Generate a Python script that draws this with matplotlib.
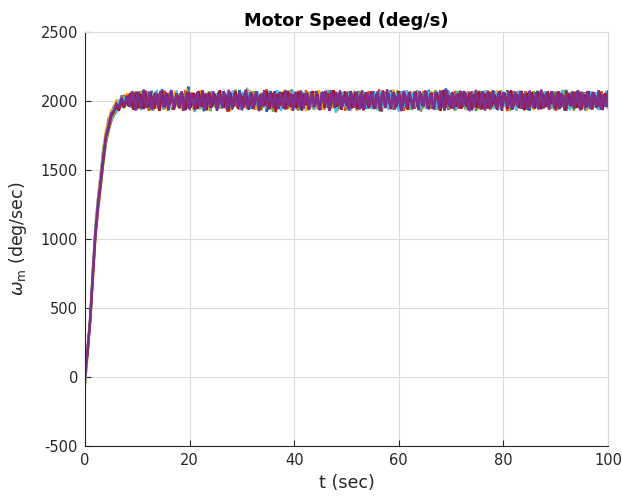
import numpy as np
import matplotlib
matplotlib.use("Agg")
import matplotlib.pyplot as plt

# Rise portion (t = 0 .. 8 s, step 0.5 s) for each run
rise_blue   = [-40, 180, 430, 760, 1080, 1300, 1470, 1650, 1760, 1870, 1900, 1960, 1990, 1950, 2040, 1975, 2030]
rise_orange = [10, 230, 400, 700, 1020, 1210, 1380, 1560, 1700, 1790, 1850, 1900, 1930, 1990, 1960, 2045, 1970]
rise_yellow = [-60, 160, 450, 790, 1090, 1300, 1460, 1640, 1790, 1850, 1930, 1950, 2010, 1960, 2030, 1985, 2050]
rise_green  = [20, 210, 410, 720, 1040, 1230, 1390, 1550, 1690, 1780, 1870, 1890, 1970, 1940, 2020, 1960, 2000]
rise_cyan   = [-30, 190, 440, 770, 1070, 1280, 1410, 1620, 1720, 1840, 1860, 1940, 1920, 2010, 1950, 2030, 1980]
rise_red    = [40, 170, 420, 740, 1030, 1240, 1400, 1570, 1740, 1800, 1890, 1920, 1960, 1930, 2000, 1950, 2040]
rise_purple = [-20, 200, 420, 750, 1060, 1260, 1430, 1600, 1750, 1820, 1910, 1930, 1980, 1955, 2025, 1970, 2010]

# Steady portion (t = 8.25 .. 100 s, step 0.25 s)
steady_blue = [
2012, 2040, 1968, 1985, 2057, 2031, 1943, 1972, 2020, 2066, 1996, 1951, 2003, 2038, 2049, 1972, 1930, 2011, 2074, 1988, 1959, 2027, 2045,
1994, 1962, 2033, 2085, 2015, 1978, 1947, 2052, 1990, 2024, 1966, 1939, 2002, 2061, 2043, 1975, 1957, 2030, 2068, 1984, 1949, 2009, 2036,
2104, 1970, 1958, 2021, 2055, 1993, 1941, 1981, 2017, 2047, 2039, 1964, 1926, 2013, 2058, 2029, 1977, 1953, 2070, 2034, 1989, 1960, 2050,
2006, 1945, 1973, 2042, 2063, 1998, 1955, 2019, 2071, 2026, 1936, 1982, 2046, 2037, 1967, 1950, 2079, 2022, 1991, 1963, 2054, 2010, 1944,
2040, 2060, 1979, 1952, 2028, 2067, 1987, 1938, 2016, 2048, 2001, 1969, 2035, 2056, 1921, 1983, 2025, 2073, 1961, 1946, 2008, 2044, 2031,
1976, 1956, 2062, 2018, 1997, 1940, 2053, 2039, 1971, 1954, 2082, 2023, 1986, 1965, 2051, 2014, 1935, 1980, 2045, 2059, 1992, 1948, 2032,
2066, 1958, 1974, 2027, 2043, 1995, 1942, 2069, 2020, 1962, 1937, 2057, 2048, 2011, 1978, 1951, 2035, 2076, 1984, 1966, 2024, 2053, 2005,
1943, 1970, 2040, 2064, 1990, 1957, 2030, 2058, 1979, 1933, 2018, 2046, 2038, 1963, 1949, 2072, 2021, 1993, 1960, 2050, 2037, 1944, 1975,
2061, 2009, 1953, 2025, 2069, 1982, 1947, 2033, 2055, 1988, 1924, 2015, 2064, 2041, 1972, 1958, 2047, 2078, 1996, 1939, 2027, 2052, 1985,
1961, 2019, 2068, 2003, 1950, 1974, 2044, 2036, 1967, 1941, 2059, 2030, 1994, 1955, 2075, 2012, 1977, 1934, 2049, 2062, 1986, 1969, 2023,
2080, 1998, 1946, 2038, 2057, 1971, 1952, 2016, 2065, 2029, 1959, 1983, 2042, 2090, 1964, 1937, 2021, 2054, 1990, 1948, 2034, 2071, 2007,
1956, 1979, 2045, 2060, 1987, 1940, 2026, 2067, 2013, 1962, 1973, 2051, 2039, 1929, 1995, 2058, 2032, 1968, 1945, 2073, 2017, 1981, 1954,
2048, 2064, 1976, 1958, 2035, 2070, 1992, 1943, 2011, 2056, 2024, 1965, 1980, 2043, 2077, 1951, 1938, 2028, 2061, 1997, 1960, 2019, 2052,
1972, 1949, 2066, 2036, 1985, 1957, 2047, 2025, 1931, 1990, 2059, 2041, 1966, 1953, 2074, 2008, 1978, 1942, 2031, 2063, 1999, 1961, 2045,
2055, 1970, 1947, 2022, 2068, 1989, 1936, 2014, 2050, 2033, 1963, 1975, 2040, 2081, 1956, 1950, 2027, 2057, 1984, 1944, 2037, 2069, 2002,
1959, 1981, 2049, 2062, 1993, 1932, 2020, 2072, 2010, 1967, 1952, 2058, 2038, 1974, 1946, 2065, 2029, 1987, 1957, 2044, 2053, 1964, 2026]
steady_orange = [
1985, 2034, 2046, 1952, 1977, 2061, 2019, 1940, 1999, 2070, 2046, 1963, 1956, 2028, 2052, 1981, 1929, 2037, 2064, 2015, 1970, 1948, 2041,
2007, 2058, 1966, 1944, 2024, 2075, 1987, 1958, 2031, 2049, 1973, 1937, 2012, 2067, 1992, 1961, 2022, 2055, 1979, 1946, 2038, 2080, 2017,
1983, 1953, 2044, 2063, 1995, 1941, 2026, 2050, 1969, 1957, 2009, 2071, 2033, 1975, 1934, 2020, 2047, 1986, 1964, 2059, 2039, 1950, 1990,
2066, 2013, 1943, 1978, 2053, 2029, 1960, 1923, 2036, 2062, 1997, 1955, 2018, 2074, 2042, 1972, 1939, 2048, 2025, 1967, 1984, 2057, 2004,
1947, 1976, 2069, 2032, 1962, 1936, 2051, 2014, 1989, 1954, 2060, 2027, 1971, 1981, 2086, 2040, 1945, 1965, 2021, 2054, 1993, 1928, 2035,
2065, 2010, 1959, 1974, 2043, 2072, 1998, 1942, 2023, 2056, 1980, 1951, 2030, 2049, 1968, 1932, 2016, 2063, 2037, 1956, 1988, 2078, 2026,
1973, 1940, 2045, 2011, 1961, 2068, 2034, 1982, 1948, 2052, 2019, 1966, 1937, 2061, 2029, 1994, 1953, 2044, 2073, 2008, 1977, 1939, 2024,
2050, 1964, 1985, 2058, 2015, 1931, 1970, 2067, 2041, 1958, 1946, 2022, 2055, 1987, 1933, 2036, 2064, 1975, 1960, 2048, 2017, 1991, 1952,
2071, 2003, 1944, 2030, 2059, 1978, 1949, 2040, 2083, 1963, 1935, 2025, 2051, 1996, 1957, 2013, 2068, 2034, 1969, 1941, 2057, 2018, 1983,
1954, 2062, 2039, 1972, 1930, 2046, 2074, 1988, 1962, 2020, 2053, 2001, 1944, 1979, 2065, 2028, 1956, 1925, 2042, 2070, 1993, 1967, 2032,
2058, 1976, 1950, 2011, 2064, 2037, 1961, 1938, 2049, 2079, 1985, 1953, 2027, 2060, 1999, 1943, 2016, 2047, 1971, 1958, 2073, 2024, 1980,
1946, 2035, 2066, 1990, 1955, 2021, 2052, 1968, 1934, 2043, 2069, 2006, 1965, 1982, 2056, 2031, 1951, 1940, 2061, 2014, 1977, 2045, 2076,
1960, 1937, 2029, 2054, 1992, 1948, 2038, 2067, 1974, 1959, 2010, 2063, 2041, 1969, 1927, 2050, 2023, 1986, 1954, 2072, 2035, 1963, 1995,
2057, 2019, 1942, 1975, 2048, 2070, 1981, 1952, 2026, 2044, 1966, 1936, 2061, 2033, 1989, 1957, 2015, 2077, 2002, 1947, 1984, 2053, 2028,
1962, 1945, 2068, 2040, 1973, 1931, 2034, 2059, 1997, 1955, 2021, 2074, 2012, 1968, 1943, 2047, 2025, 1979, 1950, 2064, 2038, 1985, 1958,
2055, 2009, 1939, 1970, 2062, 2031, 1964, 1948, 2043, 2066, 1991, 1957, 2018, 2051, 1976, 1935, 2037, 2071, 1982, 1961, 2029, 2046, 1967]
steady_yellow = [
2047, 1960, 1982, 2025, 2068, 2003, 1939, 1971, 2054, 2036, 1948, 1990, 2079, 2014, 1957, 1976, 2062, 2031, 1935, 1998, 2045, 2070, 1952,
2021, 1967, 1943, 2058, 2010, 1979, 2049, 1927, 2037, 2065, 1985, 1955, 2018, 2073, 1963, 1992, 2029, 1941, 2056, 2006, 1974, 2042, 2084,
1950, 1981, 2023, 2061, 1936, 1969, 2033, 2047, 1958, 2015, 2077, 1988, 1946, 2040, 2052, 1972, 1933, 2027, 2066, 1996, 1961, 2012, 2055,
1978, 1944, 2038, 2071, 1986, 1953, 2020, 2059, 1965, 1925, 2031, 2046, 2075, 2001, 1957, 1983, 2024, 2063, 1940, 2009, 2050, 1970, 1948,
2035, 2081, 1993, 1962, 2016, 2057, 1938, 1976, 2028, 2044, 1954, 1987, 2069, 2019, 1945, 1967, 2053, 2039, 1931, 1999, 2064, 2013, 1959,
2048, 1980, 1942, 2034, 2072, 1989, 1956, 2022, 2060, 1971, 1934, 2030, 2051, 1995, 1949, 2076, 2017, 1984, 1963, 2058, 2041, 1929, 1991,
2067, 2026, 1952, 1974, 2054, 2036, 1943, 1982, 2079, 2011, 1966, 1937, 2049, 2061, 1977, 1958, 2023, 2043, 1988, 1947, 2070, 2015, 1969,
2056, 1994, 1935, 2032, 2065, 1979, 1955, 2020, 2052, 1941, 1986, 2038, 2074, 1962, 1932, 2007, 2045, 2027, 1973, 1950, 2063, 2040, 1984,
1956, 2018, 2071, 1997, 1939, 1968, 2057, 2034, 1964, 1928, 2046, 2068, 1990, 1953, 2025, 2060, 1976, 1944, 2039, 2082, 2004, 1960, 1987,
2053, 2029, 1948, 1975, 2066, 2010, 1957, 1936, 2044, 2072, 1983, 1965, 2019, 2055, 1992, 1941, 2032, 2048, 1970, 1951, 2062, 2024, 1978,
1945, 2037, 2069, 1999, 1959, 2013, 2050, 1967, 1930, 2041, 2076, 2005, 1954, 1985, 2058, 2026, 1963, 1942, 2065, 2035, 1981, 1957, 2021,
2074, 1993, 1946, 2030, 2057, 1972, 1934, 2016, 2063, 2042, 1968, 1950, 2047, 2028, 1988, 1939, 2070, 2012, 1961, 1979, 2054, 2038, 1956,
1983, 2061, 2022, 1949, 1966, 2045, 2078, 1997, 1940, 2011, 2052, 1975, 1958, 2036, 2067, 1985, 1933, 2027, 2059, 2003, 1962, 1990, 2043,
2072, 1970, 1947, 2033, 2049, 1980, 1953, 2018, 2065, 2031, 1964, 1938, 2055, 2040, 1987, 1960, 2024, 2073, 1995, 1943, 2008, 2060, 1977,
1955, 2046, 2069, 1984, 1936, 2026, 2053, 1969, 1950, 2039, 2080, 2014, 1961, 1978, 2057, 2032, 1944, 1989, 2066, 2020, 1972, 1948, 2035,
2062, 1996, 1957, 2017, 2048, 1981, 1932, 2043, 2071, 2002, 1966, 1952, 2056, 2029, 1975, 1941, 2064, 2037, 1986, 1959, 2022, 2051, 1973]
steady_green = [
1973, 2029, 2048, 1950, 1991, 2016, 2063, 1942, 1979, 2035, 2072, 1958, 1986, 2021, 2054, 1947, 1968, 2039, 2058, 1929, 1997, 2012, 2044,
1961, 1975, 2067, 2025, 1938, 1983, 2051, 2032, 1956, 1994, 2077, 2018, 1945, 1970, 2060, 2040, 1952, 1984, 2014, 2056, 1933, 1977, 2036,
2071, 1963, 1989, 2023, 2047, 1949, 1966, 2030, 2064, 1940, 1995, 2010, 2053, 1959, 1980, 2042, 2068, 1926, 1987, 2019, 2045, 1954, 1972,
2033, 2075, 1944, 1992, 2015, 2057, 1962, 1937, 2027, 2049, 1981, 1953, 2038, 2082, 1969, 1985, 2020, 2061, 1946, 1976, 2034, 2008, 1941,
2055, 2043, 1964, 1951, 2070, 2024, 1990, 1957, 2050, 2031, 1934, 1978, 2065, 2017, 1948, 1998, 2059, 2037, 1967, 1924, 2046, 2013, 1982,
1960, 2069, 2028, 1988, 1943, 2052, 2040, 1974, 1955, 2076, 2011, 1993, 1965, 2058, 2034, 1939, 1979, 2047, 2022, 1950, 1996, 2063, 2030,
1958, 1971, 2054, 2019, 1936, 1984, 2073, 2044, 1961, 1947, 2066, 2026, 1989, 1953, 2039, 2080, 1975, 1942, 2014, 2057, 2035, 1968, 1930,
2049, 2021, 1992, 1957, 2062, 2032, 1977, 1945, 2071, 2016, 1983, 1964, 2053, 2042, 1938, 1972, 2068, 2025, 1991, 1949, 2056, 2030, 1966,
1944, 2037, 2064, 1980, 1955, 2018, 2050, 1970, 1932, 2045, 2073, 1995, 1960, 2027, 2061, 1987, 1940, 2009, 2055, 2038, 1963, 1952, 2076,
2023, 1978, 1946, 2041, 2066, 1999, 1957, 2015, 2048, 1969, 1935, 2033, 2070, 1986, 1959, 2052, 2029, 1973, 1943, 2060, 2019, 1990, 1951,
2067, 2036, 1962, 1980, 2044, 2079, 1965, 1937, 2025, 2058, 2002, 1954, 1988, 2043, 2065, 1976, 1948, 2031, 2054, 1993, 1928, 2017, 2072,
1971, 1958, 2039, 2062, 1984, 1945, 2020, 2069, 2011, 1963, 1978, 2047, 2033, 1952, 1939, 2056, 2074, 1996, 1967, 2024, 2050, 1982, 1944,
2035, 2068, 1989, 1956, 2013, 2059, 1974, 1933, 2041, 2077, 2006, 1961, 1985, 2052, 2030, 1950, 1941, 2064, 2021, 1979, 1958, 2046, 2070,
1994, 1947, 2028, 2055, 1968, 1936, 2043, 2063, 1987, 1955, 2016, 2071, 2034, 1960, 1975, 2050, 2026, 1942, 1991, 2067, 2012, 1966, 2038,
2058, 1977, 1951, 2023, 2066, 1997, 1940, 2032, 2054, 1972, 1958, 2045, 2078, 1983, 1946, 2019, 2061, 2037, 1964, 1930, 2049, 2027, 1989,
1953, 2072, 2008, 1970, 2035, 2057, 1981, 1944, 2024, 2065, 1998, 1962, 2041, 2053, 1976, 1937, 2068, 2015, 1986, 1957, 2047, 2032, 1968]
steady_cyan = [
2026, 1957, 1981, 2064, 2038, 1946, 1993, 2072, 2015, 1962, 1934, 2051, 2043, 1978, 1952, 2069, 2027, 1989, 1940, 2058, 2033, 1970, 2081,
1955, 1996, 2019, 2061, 1944, 1976, 2036, 2052, 1929, 1985, 2047, 2012, 1960, 1991, 2075, 2024, 1948, 1967, 2056, 2040, 1937, 1983, 2066,
2010, 1958, 1973, 2049, 2030, 1920, 1995, 2063, 2021, 1951, 1980, 2078, 2035, 1942, 1969, 2057, 2045, 1935, 1987, 2070, 2017, 1963, 2053,
1975, 1947, 2042, 2068, 1990, 1954, 2023, 2060, 1938, 1982, 2034, 2074, 1959, 1998, 2013, 2050, 1943, 1971, 2039, 2065, 2028, 1950, 2097,
1966, 1936, 2044, 2059, 1984, 1961, 2018, 2071, 1945, 1977, 2032, 2055, 1953, 1992, 2026, 2067, 1939, 1972, 2041, 2048, 1957, 1988, 2080,
2014, 1964, 1931, 2052, 2037, 1979, 1949, 2062, 2025, 1994, 1956, 2073, 2043, 1968, 1941, 2058, 2029, 1986, 1952, 2066, 2019, 1975, 2046,
1933, 1990, 2070, 2022, 1960, 1944, 2054, 2038, 1981, 1951, 2063, 2011, 1997, 1965, 2076, 2031, 1937, 1978, 2049, 2057, 1955, 1917, 2035,
2060, 1986, 1948, 2024, 2068, 1970, 1958, 2040, 2052, 1939, 1993, 2027, 2072, 1963, 1946, 2016, 2045, 1982, 1954, 2064, 2033, 1974, 1953,
2050, 2018, 1941, 1987, 2061, 2039, 1962, 1934, 2025, 2073, 1999, 1956, 2047, 2034, 1969, 1940, 2066, 2009, 1979, 1950, 2055, 2042, 1966,
1925, 2031, 2062, 1983, 1958, 2044, 2077, 1992, 1947, 2020, 2056, 1974, 1961, 2037, 2069, 1985, 1932, 2012, 2050, 2028, 1964, 1943, 2071,
2005, 1977, 2046, 2059, 1955, 1938, 2027, 2065, 1990, 1963, 2015, 2053, 1981, 1949, 2040, 2074, 1997, 1959, 2021, 2048, 1972, 1935, 2063,
2032, 1984, 1952, 2068, 2017, 1966, 1944, 2057, 2036, 1976, 1929, 2045, 2070, 1993, 1957, 2023, 2061, 1970, 1946, 2039, 2078, 2001, 1961,
1988, 2051, 2026, 1942, 1973, 2064, 2011, 1959, 1936, 2043, 2072, 1995, 1968, 2030, 2054, 1980, 1950, 2019, 2067, 2041, 1957, 1931, 2048,
2075, 1991, 1964, 2034, 2058, 1978, 1945, 2013, 2069, 2028, 1953, 1986, 2049, 2036, 1962, 1939, 2060, 2022, 1983, 1955, 2071, 2007, 1970,
1947, 2042, 2064, 1996, 1938, 2025, 2053, 1975, 1960, 2037, 2079, 1989, 1951, 2018, 2056, 1967, 1933, 2046, 2070, 2003, 1974, 1958, 2031,
2066, 2020, 1943, 1982, 2055, 2038, 1961, 1949, 2072, 2014, 1985, 1956, 2044, 2061, 1971, 1936, 2029, 2052, 1993, 1965, 2039, 2074, 1948]
steady_red = [
1962, 2043, 2056, 1978, 1937, 2021, 2067, 1995, 1950, 2032, 2049, 1984, 1941, 2075, 2014, 1969, 1957, 2060, 2027, 1988, 1945, 2038, 2052,
1973, 1928, 2018, 2071, 1999, 1955, 2035, 2044, 1967, 1982, 2063, 2011, 1938, 1976, 2054, 2029, 1948, 1990, 2068, 2022, 1959, 1935, 2041,
2066, 1979, 1953, 2015, 2057, 2031, 1985, 1943, 2073, 2024, 1970, 1962, 2048, 2039, 1932, 1994, 2061, 2017, 1956, 1981, 2053, 2030, 1940,
1968, 2076, 2012, 1987, 1949, 2045, 2034, 1974, 1927, 2059, 2020, 1992, 1961, 2069, 2037, 1946, 1983, 2051, 2026, 1954, 1971, 2083, 2010,
1939, 1977, 2055, 2042, 1951, 1986, 2064, 2023, 1958, 1934, 2047, 2036, 1965, 1997, 2070, 2016, 1944, 1980, 2058, 2028, 1972, 1919, 2050,
2040, 1966, 1989, 2062, 2025, 1952, 1942, 2074, 2033, 1979, 1957, 2046, 2019, 1996, 1947, 2067, 2038, 1985, 1930, 2053, 2012, 1969, 2060,
1981, 1955, 2044, 2072, 1993, 1963, 2027, 2049, 1938, 1975, 2035, 2065, 1950, 1988, 2021, 2056, 1941, 1967, 2030, 2078, 2015, 1984, 1959,
2043, 2058, 1936, 1976, 2024, 2070, 1964, 1991, 2018, 2051, 1948, 1972, 2039, 2066, 1943, 1985, 2013, 2047, 1957, 1933, 2034, 2062, 1980,
1953, 2017, 2068, 2001, 1946, 1978, 2054, 2037, 1960, 1926, 2043, 2075, 1994, 1967, 2029, 2057, 1982, 1942, 2011, 2064, 2032, 1958, 1987,
2071, 2022, 1949, 1965, 2050, 2039, 1974, 1937, 2061, 2015, 1990, 1956, 2045, 2068, 1979, 1944, 2026, 2053, 1998, 1962, 2019, 2073, 1968,
1940, 2036, 2059, 1983, 1951, 2012, 2066, 2027, 1964, 1931, 2048, 2079, 1992, 1955, 2020, 2042, 1973, 1947, 2063, 2031, 1986, 1960, 2054,
2025, 1970, 1945, 2041, 2072, 1996, 1958, 2016, 2060, 1977, 1936, 2034, 2049, 1989, 1952, 2068, 2023, 1966, 1941, 2055, 2038, 1981, 1948,
2064, 2010, 1961, 1984, 2046, 2030, 1938, 1972, 2069, 2035, 1955, 1993, 2057, 2018, 1944, 1978, 2040, 2076, 1990, 1963, 2027, 2051, 1970,
1950, 2045, 2073, 1987, 1933, 2021, 2058, 1975, 1959, 2039, 2062, 1997, 1946, 2014, 2067, 2029, 1968, 1942, 2052, 2034, 1983, 1957, 2070,
2008, 1976, 2037, 2055, 1965, 1940, 2025, 2071, 1985, 1954, 2044, 2018, 1971, 1929, 2059, 2041, 1992, 1962, 2033, 2065, 1978, 1951, 2022,
2061, 1998, 1945, 2031, 2048, 1967, 1956, 2070, 2016, 1982, 1939, 2053, 2036, 1973, 1958, 2045, 2063, 1988, 1934, 2027, 2057, 1979, 2042]
steady_purple = [
2035, 1958, 1990, 2071, 2040, 1964, 1932, 2049, 2063, 1976, 1945, 2026, 2082, 2001, 1951, 1983, 2067, 2018, 1939, 1970, 2044, 2059, 1997,
1947, 2031, 2074, 1984, 1955, 2023, 2061, 1968, 1936, 2048, 2079, 1993, 1942, 2012, 2055, 1979, 1961, 2037, 2066, 1928, 1987, 2029, 2070,
1953, 1944, 2058, 2016, 1973, 1934, 2042, 2064, 1993, 1957, 2020, 2076, 1966, 1940, 2033, 2053, 1982, 1949, 2011, 2068, 2038, 1974, 1930,
2060, 2027, 1995, 1954, 2072, 2045, 1962, 1938, 2081, 2019, 1978, 1946, 2056, 2034, 1989, 1958, 2065, 2014, 1933, 1971, 2050, 2073, 1951,
1985, 2039, 2062, 1943, 1967, 2024, 2069, 1996, 1926, 2047, 2036, 1960, 2077, 2028, 1994, 1937, 2057, 2043, 1975, 1952, 2071, 2017, 1983,
1941, 2064, 2032, 1969, 1948, 2080, 2022, 1987, 1963, 2054, 2041, 1931, 1972, 2067, 2015, 1986, 1956, 2075, 2035, 1944, 1991, 2058, 2026,
1938, 1965, 2063, 2046, 1954, 1980, 2070, 2013, 1947, 1935, 2060, 2037, 1977, 2074, 2030, 1961, 1929, 2052, 2044, 1996, 1950, 2066, 2021,
1968, 2078, 1942, 2039, 1984, 2018, 2061, 1957, 1933, 2072, 2048, 1974, 1953, 2025, 2065, 1988, 1939, 2041, 2076, 1946, 1962, 2029, 2057,
1979, 1958, 2036, 2068, 1991, 1944, 2023, 2071, 1966, 1936, 2050, 2060, 1972, 1949, 2083, 2016, 1985, 1957, 2043, 2064, 1940, 1975, 2033,
2055, 1960, 1927, 2047, 2073, 1995, 1952, 2019, 2066, 2038, 1970, 1943, 2058, 2027, 1989, 1934, 2069, 2042, 1964, 1981, 2077, 2011, 1948,
1973, 2052, 2035, 1956, 1939, 2063, 2024, 1993, 1946, 2070, 2044, 1967, 1931, 2056, 2079, 1984, 1959, 2030, 2062, 1941, 1977, 2048, 2015,
1950, 2074, 2037, 1963, 1987, 2059, 2020, 1944, 1936, 2067, 2040, 1978, 1955, 2081, 2026, 1994, 1947, 2053, 2069, 1960, 1932, 2045, 2061,
1982, 1945, 2034, 2076, 2008, 1965, 1952, 2057, 2041, 1971, 1929, 2064, 2031, 1988, 1958, 2072, 2046, 1954, 1938, 2038, 2067, 1997, 1962,
2023, 2069, 1943, 1976, 2050, 2028, 1959, 1935, 2075, 2047, 1983, 1951, 2016, 2062, 1967, 1940, 2055, 2081, 1992, 1948, 2034, 2060, 1972,
1937, 2043, 2071, 1986, 1954, 2026, 2066, 1961, 1942, 2058, 2036, 1979, 1930, 2073, 2019, 1990, 1964, 2049, 2068, 1945, 1974, 2040, 2077,
1956, 1933, 2062, 2030, 1981, 1949, 2070, 2044, 1968, 1941, 2053, 2065, 1987, 1952, 2024, 2078, 1960, 1938, 2047, 2035, 1972, 1957, 2068]

dt_rise = 0.5     # sample interval of rise portion (s)
t_steady0 = 8.25  # first steady sample time (s)
dt_steady = 0.25  # sample interval of steady portion (s)

runs = [
    ("#0072BD", rise_blue, steady_blue),
    ("#D95319", rise_orange, steady_orange),
    ("#EDB120", rise_yellow, steady_yellow),
    ("#77AC30", rise_green, steady_green),
    ("#4DBEEE", rise_cyan, steady_cyan),
    ("#A2142F", rise_red, steady_red),
    ("#7E2F8E", rise_purple, steady_purple),
]

title = "Motor Speed (deg/s)"
xlabel = "t (sec)"
ylabel = r"$\omega_{\mathrm{m}}$ (deg/sec)"
xticks = [0, 20, 40, 60, 80, 100]
yticks = [-500, 0, 500, 1000, 1500, 2000, 2500]

plt.rcParams["font.family"] = ["DejaVu Sans"]
plt.rcParams["mathtext.fontset"] = "dejavusans"
plt.rcParams["axes.unicode_minus"] = False

fig = plt.figure(figsize=(6.22, 4.97), dpi=100)
ax = fig.add_axes([85 / 622, 51 / 497, 523 / 622, 414 / 497])

for color, rise, steady in runs:
    t = np.concatenate([np.arange(len(rise)) * dt_rise,
                        t_steady0 + np.arange(len(steady)) * dt_steady])
    y = np.array(rise + steady, dtype=float)
    ax.plot(t, y, color=color, lw=1.7, solid_joinstyle="miter")

ax.set_xlim(0, 100)
ax.set_ylim(-500, 2500)
ax.set_xticks(xticks)
ax.set_yticks(yticks)
ax.grid(True, color="#dcdcdc", lw=0.8)
ax.set_axisbelow(True)

dark = "#262626"
for s in ["left", "bottom"]:
    ax.spines[s].set_color(dark)
    ax.spines[s].set_linewidth(0.8)
for s in ["top", "right"]:
    ax.spines[s].set_color("#dcdcdc")
    ax.spines[s].set_linewidth(0.8)
ax.tick_params(direction="in", length=4, width=0.8, colors=dark, labelsize=10.5, pad=5)

ax.set_title(title, fontsize=12.8, fontweight="bold", pad=4)
ax.set_xlabel(xlabel, fontsize=12.6, color=dark, labelpad=4)
ax.set_ylabel(ylabel, fontsize=12.5, color=dark, labelpad=8.5)

fig.savefig("out.png", dpi=100)
